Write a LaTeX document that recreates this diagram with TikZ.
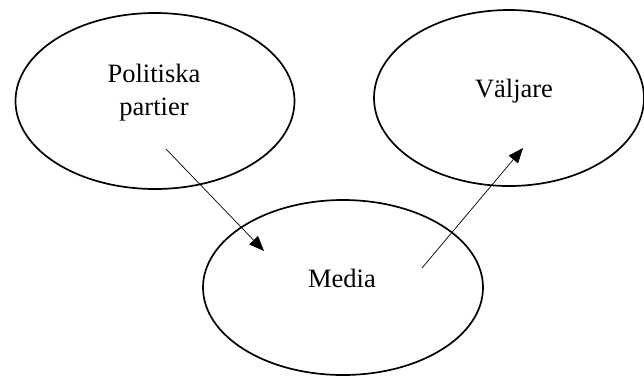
\documentclass[tikz,border=0pt]{standalone}
\usepackage{fontspec}
\setmainfont{Liberation Serif}
\usetikzlibrary{shapes.geometric,arrows.meta}
\tikzset{
  oval/.style={draw,ellipse,line width=1.7pt,inner sep=0pt},
  txt/.style={inner sep=0pt,align=center,font=\fontsize{26.5}{33}\selectfont},
  flow/.style={line width=0.7pt,-{Triangle[length=15pt,width=12pt]}}
}
\begin{document}
\begin{tikzpicture}[x=1pt,y=-1pt]
        \useasboundingbox (0,0) rectangle (644,376);
        %% ellipses
        \node[oval,minimum width=279pt,minimum height=176pt] (partier) at (155,101) {};
        \node[oval,minimum width=270pt,minimum height=176pt] (valjare) at (509,98) {};
        \node[oval,minimum width=280pt,minimum height=175pt] (media) at (343,287.5) {};
        %% texts
        \node[txt] (partierlbl) at (154,92.5) {Politiska\\partier};
        \node[txt] (valjarelbl) at (514,91) {Väljare};
        \node[txt] (medialbl) at (342,278) {Media};
        %% arrows
        \coordinate (p1) at ([shift={(11,48)}]partier.center);
        \coordinate (m1) at ([shift={(-79,-36.5)}]media.center);
        \coordinate (m2) at ([shift={(79,-19.5)}]media.center);
        \coordinate (v1) at ([shift={(14,50)}]valjare.center);
        \draw[flow] (p1) -- (m1);
        \draw[flow] (m2) -- (v1);
    \end{tikzpicture}
\end{document}
